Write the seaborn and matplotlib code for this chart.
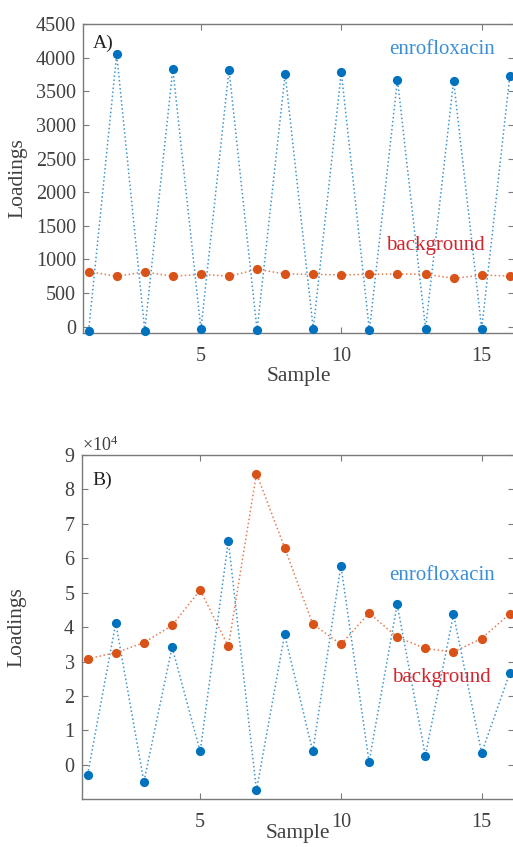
import numpy as np
import pandas as pd
import matplotlib
matplotlib.use("Agg")
import matplotlib.pyplot as plt
from matplotlib.ticker import ScalarFormatter
import seaborn as sns

# Component loadings per sample
samples = list(range(1, 17))

enro_a = [-60, 4050, -60, 3830, -40, 3820, -55, 3760,
          -35, 3785, -55, 3670, -30, 3655, -35, 3725]
back_a = [818, 749, 813, 749, 779, 749, 853, 783,
          779, 769, 779, 783, 779, 719, 764, 754]

enro_b = [-2800, 41200, -4900, 34200, 3900, 65100, -7400, 37900,
          3900, 57900, 900, 46600, 2700, 43700, 3500, 26700]
back_b = [30800, 32600, 35500, 40500, 50800, 34400, 84600, 63100,
          40900, 35000, 44100, 37100, 33800, 32800, 36700, 43900]

series_names = ["enrofloxacin", "background"]
panel_tags = ["A)", "B)"]

BLUE = "#0072BD"
ORANGE = "#D95319"
TEXT_BLUE = "#3A8FD8"
TEXT_RED = "#D2262E"
GREY = "#404040"
AXGREY = "#7a7a7a"

sns.set_theme(style="white")
plt.rcParams["font.family"] = ["Liberation Serif", "DejaVu Serif"]
plt.rcParams["mathtext.fontset"] = "custom"
plt.rcParams["mathtext.rm"] = "Liberation Serif"
plt.rcParams["mathtext.it"] = "Liberation Serif:italic"

fig = plt.figure(figsize=(5.13, 8.47), dpi=100)
W, H = 513, 847


def axes_from_px(left, top, right, bottom):
    return fig.add_axes([left / W, 1 - bottom / H, (right - left) / W, (bottom - top) / H])


ax_a = axes_from_px(83, 24, 514, 332.7)
ax_b = axes_from_px(82, 455, 514, 799.3)


def draw_panel(ax, enro, back, xlabelpad):
    df = pd.DataFrame({"Sample": samples * 2,
                       "Loadings": list(enro) + list(back),
                       "series": [series_names[0]] * len(samples) + [series_names[1]] * len(samples)})
    for name, col in zip(series_names, [BLUE, ORANGE]):
        sub = df[df["series"] == name]
        sns.lineplot(data=sub, x="Sample", y="Loadings", ax=ax, color=col,
                     linestyle=":", linewidth=1.1, alpha=0.75, legend=False)
        sns.scatterplot(data=sub, x="Sample", y="Loadings", ax=ax, color=col,
                        s=44, linewidth=0, clip_on=False, legend=False, zorder=3)
    ax.set_xlim(0.8, 16.15)
    ax.set_xticks([5, 10, 15])
    for side in ["left", "right", "top", "bottom"]:
        ax.spines[side].set_color(AXGREY)
        ax.spines[side].set_linewidth(1.0)
        ax.spines[side].set_visible(True)
    ax.tick_params(direction="in", length=4, width=0.8, color=AXGREY,
                   top=True, right=True, left=True, bottom=True,
                   labelsize=14.5, labelcolor=GREY)
    ax.tick_params(axis="x", pad=10)
    ax.tick_params(axis="y", pad=5)
    ax.set_xlabel("Sample", fontsize=15.5, color=GREY, labelpad=xlabelpad)
    ax.set_ylabel("Loadings", fontsize=15.5, color=GREY)
    ax.grid(False)


draw_panel(ax_a, enro_a, back_a, 1)
ax_a.set_ylim(-90, 4500)
ax_a.set_yticks(np.arange(0, 4501, 500))
ax_a.text(0.023, 0.938, panel_tags[0], transform=ax_a.transAxes, fontsize=14,
          color="#222222", ha="left", va="center")
ax_a.text(0.832, 0.919, series_names[0], transform=ax_a.transAxes, fontsize=15,
          color=TEXT_BLUE, ha="center", va="center")
ax_a.text(0.817, 0.284, series_names[1], transform=ax_a.transAxes, fontsize=15,
          color=TEXT_RED, ha="center", va="center")
ax_a.yaxis.set_label_coords(-0.128, 0.5)

draw_panel(ax_b, enro_b, back_b, -6)
ax_b.set_ylim(-10000, 90000)
ax_b.set_yticks(np.arange(0, 90001, 10000))
fmt = ScalarFormatter(useMathText=True)
fmt.set_powerlimits((0, 0))
ax_b.yaxis.set_major_formatter(fmt)
ax_b.yaxis.get_offset_text().set_fontsize(13)
ax_b.yaxis.get_offset_text().set_color(GREY)
ax_b.text(0.025, 0.927, panel_tags[1], transform=ax_b.transAxes, fontsize=14,
          color="#222222", ha="left", va="center")
ax_b.text(0.833, 0.651, series_names[0], transform=ax_b.transAxes, fontsize=15,
          color=TEXT_BLUE, ha="center", va="center")
ax_b.text(0.832, 0.355, series_names[1], transform=ax_b.transAxes, fontsize=15,
          color=TEXT_RED, ha="center", va="center")
ax_b.yaxis.set_label_coords(-0.128, 0.5)

fig.savefig("out.png", dpi=100)
